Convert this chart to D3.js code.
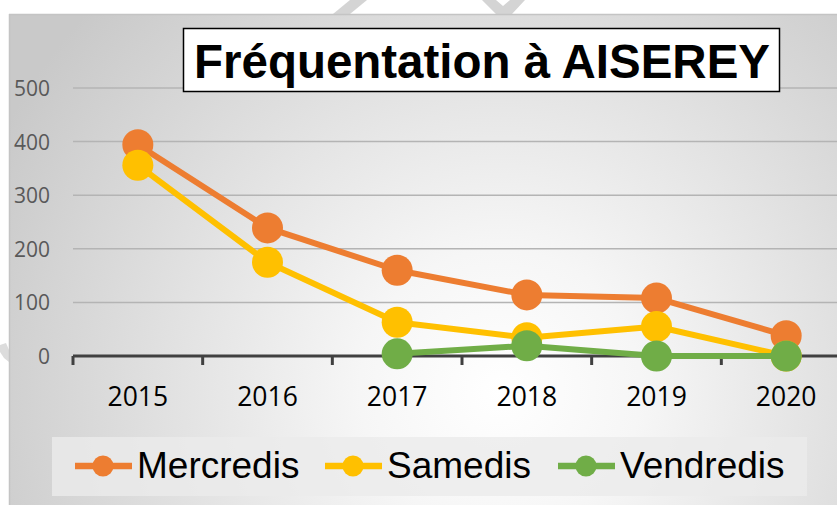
<!DOCTYPE html>
<html><head><meta charset="utf-8">
<script src="https://cdn.jsdelivr.net/npm/d3@7"></script>
<style>body{margin:0;background:#fff}svg{display:block}</style>
</head><body>
<svg id="c" width="837" height="505"></svg>
<script>
const years = ["2015","2016","2017","2018","2019","2020"];
const mercredis = [394, 239, 160, 114, 108, 38];
const samedis = [356, 175, 63, 34, 55, 0];
const vendredis = [null, null, 4, 19, 0, 0];
const yTicks = [0, 100, 200, 300, 400, 500];
const seriesNames = ["Mercredis", "Samedis", "Vendredis"];
const seriesColors = ["#ED7D31", "#FFC000", "#70AD47"];
const titleText = "Fréquentation à AISEREY";

const series = seriesNames.map((n, i) => ({name: n, color: seriesColors[i], values: [mercredis, samedis, vendredis][i]}));

const svg = d3.select("#c");
const defs = svg.append("defs");
const rg = defs.append("radialGradient").attr("id","bg").attr("gradientUnits","userSpaceOnUse")
  .attr("cx",500).attr("cy",390).attr("r",560);
rg.append("stop").attr("offset","0%").attr("stop-color","#ffffff");
rg.append("stop").attr("offset","25%").attr("stop-color","#f6f6f6");
rg.append("stop").attr("offset","100%").attr("stop-color","#c9c9c9");

// faint watermark shapes in the white margin
svg.append("polygon").attr("points","333,14 350,0 367,0 350,14").attr("fill","#d4d4d4");
svg.append("polygon").attr("points","482,0 496,0 503,6 510,0 525,0 512,14 496,14").attr("fill","#d4d4d4");
svg.append("polygon").attr("points","0,345 6,343 9,350 9,362 4,358 0,352").attr("fill","#dcdcdc");

svg.append("rect").attr("x",9).attr("y",14).attr("width",840).attr("height",500).attr("fill","url(#bg)");
svg.append("line").attr("x1",9.5).attr("x2",9.5).attr("y1",14).attr("y2",505).attr("stroke","#c4c4c4").attr("stroke-width",1.5);
svg.append("line").attr("x1",9).attr("x2",837).attr("y1",14.5).attr("y2",14.5).attr("stroke","#c4c4c4").attr("stroke-width",1.5);

const x = d3.scaleBand().domain(years).range([73, 851]);
const y = d3.scaleLinear().domain([0, 500]).range([356, 88]);

// gridlines
svg.append("g").selectAll("line").data(yTicks.filter(d => d > 0)).join("line")
  .attr("x1", 73).attr("x2", 837).attr("y1", d => y(d)).attr("y2", d => y(d))
  .attr("stroke", "#b4b4b4").attr("stroke-width", 1.5);

// y axis labels
const yAxis = d3.axisLeft(y).tickValues(yTicks).tickSize(0).tickPadding(0).tickFormat(d3.format("d"));
const gy = svg.append("g").attr("transform","translate(50,0)").call(yAxis)
  .attr("font-family","'Open Sans', sans-serif").attr("font-size",21);
gy.select(".domain").remove();
gy.selectAll("text").attr("fill","#595959").attr("dy","0.36em");

// x axis
const xAxis = d3.axisBottom(x).tickSize(0).tickPadding(0);
const gx = svg.append("g").attr("transform","translate(0,356)").call(xAxis)
  .attr("font-family","'Open Sans', sans-serif").attr("font-size",26.5);
gx.select(".domain").remove();
gx.selectAll("text").attr("fill","#000").attr("y",50).attr("dy",0);
svg.append("line").attr("x1",73).attr("x2",851).attr("y1",356).attr("y2",356).attr("stroke","#404040").attr("stroke-width",3);
svg.append("g").selectAll("line").data(years).join("line")
  .attr("x1", d => x(d)).attr("x2", d => x(d)).attr("y1",356).attr("y2",365)
  .attr("stroke","#404040").attr("stroke-width",3);

// lines & markers
const line = d3.line().defined(d => d.v !== null).x(d => x(d.k) + x.bandwidth()/2).y(d => y(d.v));
series.forEach(s => {
  const pts = years.map((k, i) => ({k, v: s.values[i]}));
  svg.append("path").datum(pts).attr("d", line).attr("fill","none").attr("stroke", s.color).attr("stroke-width",6).attr("stroke-linejoin","round");
  svg.append("g").selectAll("circle").data(pts.filter(d => d.v !== null)).join("circle")
    .attr("cx", d => x(d.k) + x.bandwidth()/2).attr("cy", d => y(d.v)).attr("r", 15.5).attr("fill", s.color);
});

// title
svg.append("rect").attr("x",183.5).attr("y",28.5).attr("width",596).attr("height",63).attr("fill","#fff").attr("stroke","#000").attr("stroke-width",1.5);
svg.append("text").attr("x",482).attr("y",78).attr("text-anchor","middle")
  .attr("font-family","'Liberation Sans', Arial, sans-serif").attr("font-weight","bold").attr("font-size",48)
  .attr("textLength",576).attr("lengthAdjust","spacingAndGlyphs").text(titleText);

// legend
svg.append("rect").attr("x",52).attr("y",437).attr("width",755).attr("height",59).attr("fill","#ebebeb").attr("opacity",0.8);
const legX = [75, 325, 558];
const lg = svg.append("g").selectAll("g").data(series).join("g").attr("transform",(d,i)=>`translate(${legX[i]},466)`);
lg.append("line").attr("x1",0).attr("x2",57).attr("stroke",d=>d.color).attr("stroke-width",6.5);
lg.append("circle").attr("cx",28).attr("r",10.5).attr("fill",d=>d.color);
lg.append("text").attr("x",62).attr("y",12).attr("font-family","'Liberation Sans', Arial, sans-serif").attr("font-size",37).attr("fill","#000").text(d=>d.name);
</script>
</body></html>
